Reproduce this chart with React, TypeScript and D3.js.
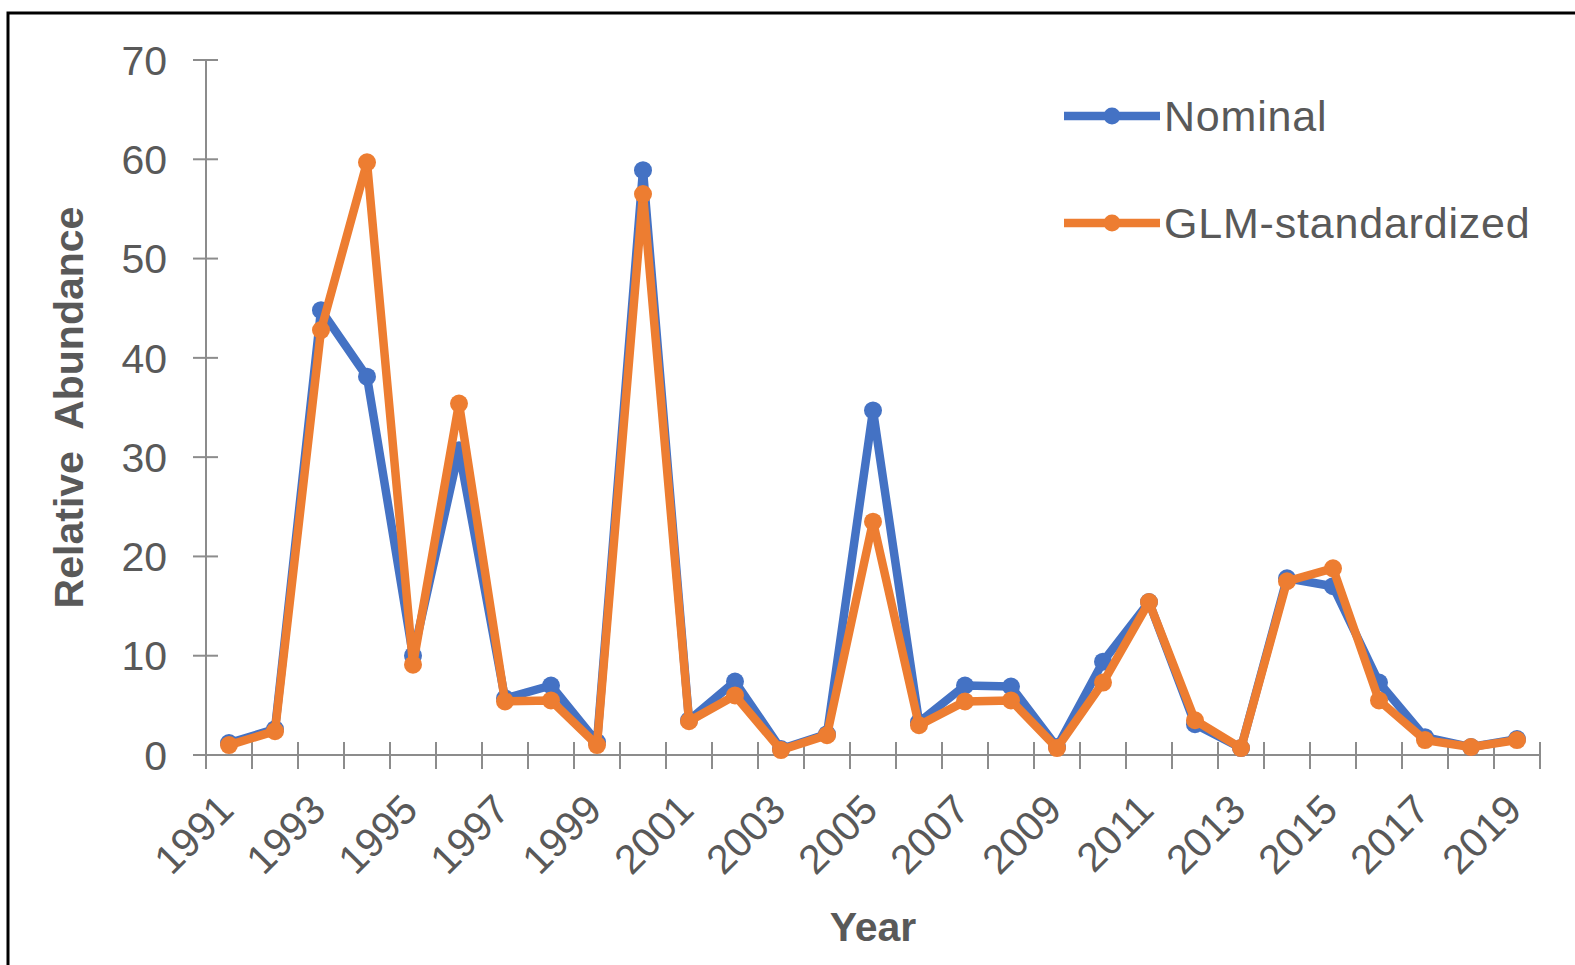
import React from "react";
import * as d3 from "d3";

const years: number[] = [
  1991, 1992, 1993, 1994, 1995, 1996, 1997, 1998, 1999, 2000, 2001, 2002, 2003, 2004, 2005,
  2006, 2007, 2008, 2009, 2010, 2011, 2012, 2013, 2014, 2015, 2016, 2017, 2018, 2019,
];
const nominal: number[] = [
  1.2, 2.6, 44.8, 38.1, 10.0, 30.7, 5.7, 7.0, 1.3, 58.9, 3.5, 7.4, 0.6, 2.1, 34.7,
  3.3, 7.0, 6.9, 0.8, 9.4, 15.4, 3.1, 0.7, 17.8, 17.0, 7.3, 1.8, 0.8, 1.6,
];
const glm: number[] = [
  1.0, 2.4, 42.8, 59.7, 9.1, 35.4, 5.4, 5.5, 1.0, 56.5, 3.4, 6.0, 0.5, 2.0, 23.5,
  3.0, 5.4, 5.5, 0.7, 7.3, 15.4, 3.5, 0.7, 17.5, 18.8, 5.5, 1.5, 0.8, 1.5,
];
const yTicks: number[] = [0, 10, 20, 30, 40, 50, 60, 70];
const seriesNames: string[] = ["Nominal", "GLM-standardized"];

const W = 1575;
const H = 965;
const FONT = "'Liberation Sans', Arial, sans-serif";
const BLUE = "#4472C4";
const ORANGE = "#ED7D31";
const AXIS = "#8c8c8c";
const TEXT = "#595959";

export default function App() {
  const x = d3.scaleBand<number>().domain(years).range([206, 1540]).paddingInner(0).paddingOuter(0);
  const y = d3.scaleLinear().domain([0, 70]).range([755, 60]);
  const bw = x.bandwidth();
  const cx = (yr: number) => (x(yr) as number) + bw / 2;

  const line = d3
    .line<number>()
    .x((_, i) => cx(years[i]))
    .y((d) => y(d));

  const series = [
    { name: seriesNames[0], values: nominal, color: BLUE },
    { name: seriesNames[1], values: glm, color: ORANGE },
  ];

  const boundaries = d3.range(years.length + 1).map((i) => 206 + i * bw);

  return (
    <div style={{ position: "absolute", left: 0, top: 0 }}>
      <svg width={W} height={H} style={{ display: "block", background: "#fff" }}>
        <rect x={0} y={0} width={W} height={H} fill="#fff" />
        <rect x={8} y={13} width={W + 20} height={H + 20} fill="none" stroke="#000" strokeWidth={3} />

        {/* Y axis */}
        <line x1={206} x2={206} y1={y(70)} y2={y(0)} stroke={AXIS} strokeWidth={2} />
        {yTicks.map((t) => (
          <g key={t}>
            <line x1={193} x2={218} y1={y(t)} y2={y(t)} stroke={AXIS} strokeWidth={2} />
            <text
              x={167}
              y={y(t)}
              dy="0.36em"
              textAnchor="end"
              fontFamily={FONT}
              fontSize={41}
              fill={TEXT}
            >
              {t}
            </text>
          </g>
        ))}

        {/* X axis */}
        <line x1={206} x2={1540} y1={y(0)} y2={y(0)} stroke={AXIS} strokeWidth={2} />
        {boundaries.map((bx, i) => (
          <line key={i} x1={bx} x2={bx} y1={742} y2={769} stroke={AXIS} strokeWidth={2} />
        ))}
        {years.map((yr, i) =>
          i % 2 === 0 ? (
            <text
              key={yr}
              transform={`translate(${cx(yr) + 7},812) rotate(-45)`}
              textAnchor="end"
              fontFamily={FONT}
              fontSize={41}
              fill={TEXT}
            >
              {yr}
            </text>
          ) : null
        )}

        {/* Axis titles */}
        <text
          transform={`translate(83,${(y(0) + y(70)) / 2}) rotate(-90)`}
          textAnchor="middle"
          fontFamily={FONT}
          fontSize={41}
          fontWeight="bold"
          fill={TEXT}
          style={{ whiteSpace: "pre" }}
        >
          {"Relative  Abundance"}
        </text>
        <text
          x={873}
          y={941}
          textAnchor="middle"
          fontFamily={FONT}
          fontSize={41}
          fontWeight="bold"
          fill={TEXT}
        >
          Year
        </text>

        {/* Series */}
        {series.map((s) => (
          <g key={s.name}>
            <path
              d={line(s.values) || ""}
              fill="none"
              stroke={s.color}
              strokeWidth={8.5}
              strokeLinejoin="round"
              strokeLinecap="round"
            />
            {s.values.map((v, i) => (
              <circle key={i} cx={cx(years[i])} cy={y(v)} r={9} fill={s.color} />
            ))}
          </g>
        ))}

        {/* Legend */}
        {series.map((s, i) => {
          const ly = i === 0 ? 116 : 223;
          return (
            <g key={s.name}>
              <line x1={1064} x2={1160} y1={ly} y2={ly} stroke={s.color} strokeWidth={8.5} />
              <circle cx={1112} cy={ly} r={8.5} fill={s.color} />
              <text
                x={1164}
                y={ly}
                dy="0.36em"
                fontFamily={FONT}
                fontSize={43}
                fill={TEXT}
                letterSpacing={0.8}
              >
                {s.name}
              </text>
            </g>
          );
        })}
      </svg>
    </div>
  );
}
